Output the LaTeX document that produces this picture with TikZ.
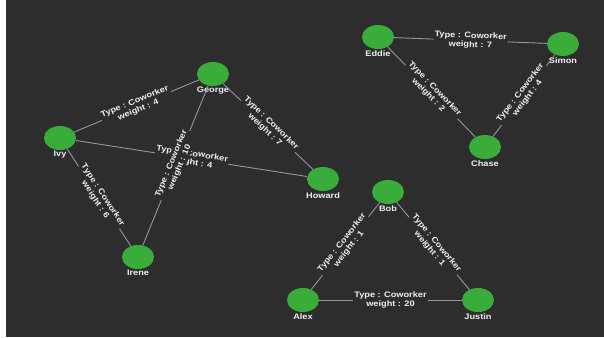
\documentclass[tikz,border=0pt]{standalone}
\usepackage{fontspec}
\setmainfont{Liberation Sans}[FakeStretch=1.15]
\usetikzlibrary{shapes.geometric}
\definecolor{bg}{RGB}{45,45,45}
\definecolor{nodegreen}{RGB}{58,172,58}
\definecolor{edgegray}{RGB}{150,148,168}
\definecolor{txt}{RGB}{240,240,240}
\begin{document}
\begin{tikzpicture}[x=1pt,y=-1pt,
  vtx/.style={ellipse,fill=nodegreen,draw=none,minimum width=32pt,minimum height=24pt,inner sep=0pt},
  nm/.style={text=txt,font=\fontsize{8}{9}\selectfont\bfseries,inner sep=1pt,label distance=0pt},
  edge/.style={draw=edgegray,line width=0.9pt},
  elbl/.style={sloped,fill=bg,inner sep=1pt,text=txt,align=center,font=\fontsize{8}{9}\selectfont\bfseries}]
\useasboundingbox (0,0) rectangle (604,337);
\fill[white] (0,0) rectangle (604,337);
\fill[bg] (6,0) rectangle (604,337);
% nodes
\node[vtx,label={[nm]below:Ivy}] (ivy) at (60,138) {};
\node[vtx,label={[nm]below:George}] (george) at (213,74) {};
\node[vtx,label={[nm]below:Howard}] (howard) at (323,179) {};
\node[vtx,label={[nm]below:Irene}] (irene) at (138,257) {};
\node[vtx,label={[nm]below:Eddie}] (eddie) at (378,37) {};
\node[vtx,label={[nm]below:Simon}] (simon) at (563,44) {};
\node[vtx,label={[nm]below:Chase}] (chase) at (485,147) {};
\node[vtx,label={[nm]below:Bob}] (bob) at (388,192) {};
\node[vtx,label={[nm]below:Alex}] (alex) at (303,300) {};
\node[vtx,label={[nm]below:Justin}] (justin) at (478,300) {};
% edges
\draw[edge] (ivy) -- node[elbl]{Type : Coworker\\weight : 4} (george);
\draw[edge] (george) -- node[elbl]{Type : Coworker\\weight : 7} (howard);
\draw[edge] (ivy) -- node[elbl]{Type : Coworker\\weight : 4} (howard);
\draw[edge] (ivy) -- node[elbl]{Type : Coworker\\weight : 6} (irene);
\draw[edge] (george) -- node[elbl]{Type : Coworker\\weight : 10} (irene);
\draw[edge] (eddie) -- node[elbl]{Type : Coworker\\weight : 7} (simon);
\draw[edge] (eddie) -- node[elbl]{Type : Coworker\\weight : 2} (chase);
\draw[edge] (simon) -- node[elbl]{Type : Coworker\\weight : 4} (chase);
\draw[edge] (bob) -- node[elbl]{Type : Coworker\\weight : 1} (alex);
\draw[edge] (bob) -- node[elbl]{Type : Coworker\\weight : 1} (justin);
\draw[edge] (alex) -- node[elbl]{Type : Coworker\\weight : 20} (justin);
\end{tikzpicture}
\end{document}
